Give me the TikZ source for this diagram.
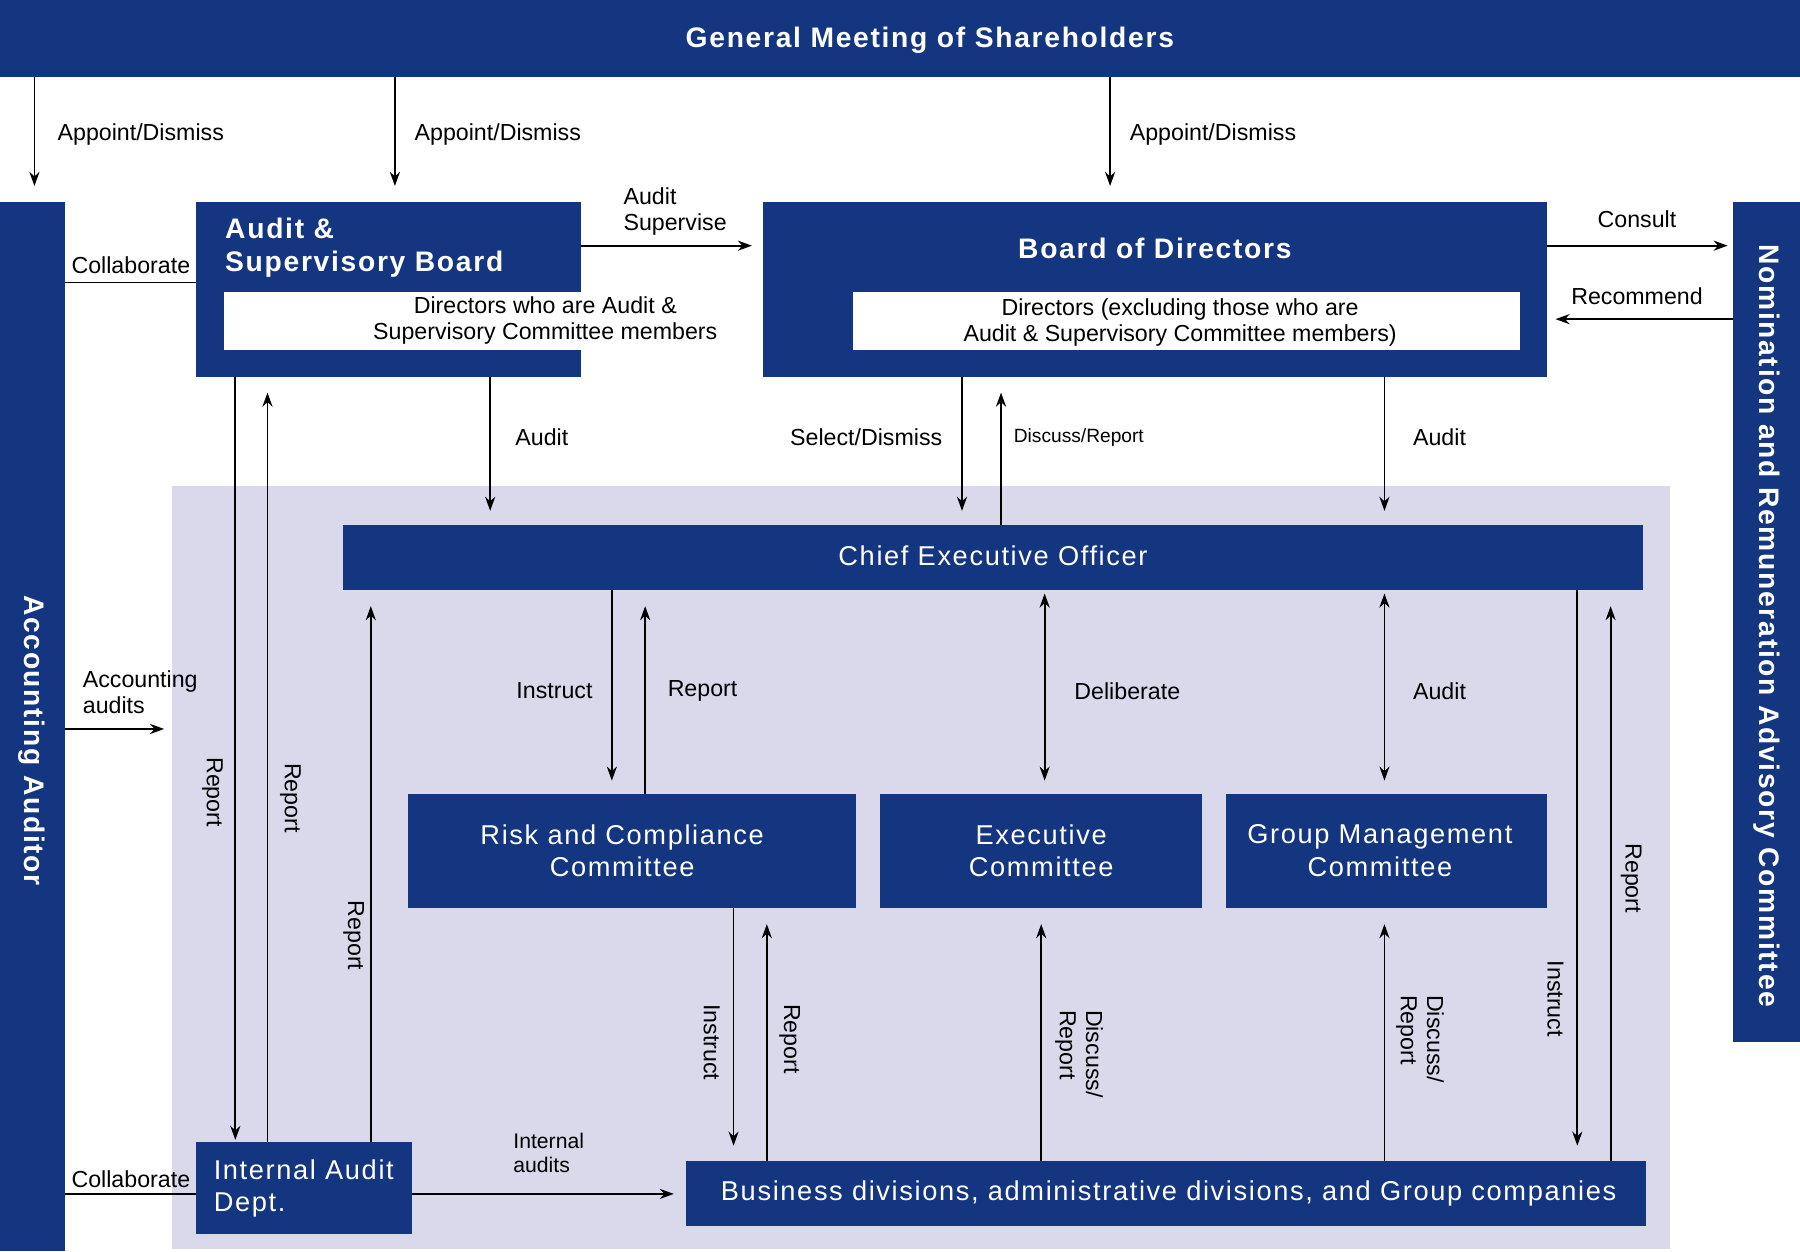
\documentclass[tikz,border=0pt]{standalone}
\usepackage{fontspec}
\setmainfont{Liberation Sans}
\newfontfamily\spc[LetterSpace=6]{Liberation Sans}
\usetikzlibrary{arrows.meta}
\definecolor{db}{HTML}{14357F}
\definecolor{lav}{HTML}{D9D9EB}
\begin{document}
\begin{tikzpicture}[x=0.02cm,y=-0.02cm,
 blue/.style={fill=db,draw=none},
 wt/.style={fill=white,draw=none},
 ar/.style={-{Stealth[length=7pt,width=5pt]},line width=0.9pt},
 dar/.style={{Stealth[length=7pt,width=5pt]}-{Stealth[length=7pt,width=5pt]},line width=0.9pt},
 ln/.style={line width=0.9pt},
 lb/.style={font=\fontsize{11.5}{13}\selectfont,align=left},
 sl/.style={font=\fontsize{9.5}{11}\selectfont,align=left},
 bt/.style={text=white,font=\fontsize{14}{16}\selectfont\spc\bfseries},
 wb/.style={text=white,font=\fontsize{13.5}{16}\selectfont\spc,align=center}]
\useasboundingbox (0,0) rectangle (1568,1090);
\fill[lav] (150,423) rectangle (1455,1088);
% boxes
\fill[blue] (0,0) rectangle (1568,67);
\node[bt] (gm) at (810,35) {General Meeting of Shareholders};
\fill[blue] (0,176) rectangle (57,1090);
\coordinate (aa) at (0,176);
\node[bt,rotate=-90] (acc) at (28,645) {Accounting Auditor};
\fill[blue] (1510,176) rectangle (1568,908);
\node[bt,rotate=-90] (nom) at (1539,545) {Nomination and Remuneration Advisory Committee};
\fill[blue] (171,176) rectangle (506,328);
\node[bt,anchor=north west,align=left] (asb) at (190,184) {Audit \&\\Supervisory Board};
\fill[wt] (195,254) rectangle (717,305);
\node[lb,align=center] (asbi) at (475,279) {Directors who are Audit \&\\Supervisory Committee members};
\fill[blue] (665,176) rectangle (1348,328);
\node[bt] (bod) at (1006,216) {Board of Directors};
\fill[wt] (743,254) rectangle (1324,305);
\node[lb,align=center] (bodi) at (1028,281) {Directors (excluding those who are\\Audit \& Supervisory Committee members)};
\fill[blue] (299,457) rectangle (1431,514);
\node[wb] (ceo) at (865,484) {Chief Executive Officer};
\fill[blue] (355,692) rectangle (746,791);
\node[wb] (rc) at (542,741) {Risk and Compliance\\Committee};
\fill[blue] (767,692) rectangle (1047,791);
\node[wb] (ec) at (907,741) {Executive\\Committee};
\fill[blue] (1068,692) rectangle (1348,791);
\node[wb] (gmc) at (1202,741) {Group Management\\Committee};
\fill[blue] (171,995) rectangle (359,1075);
\node[wb,align=left,anchor=west] (ia) at (180,1035) {Internal Audit\\Dept.};
\fill[blue] (598,1011) rectangle (1434,1068);
\node[wb] (bd) at (1018,1040) {Business divisions, administrative divisions, and Group companies};
% named endpoints
\foreach \n/\x/\y in {a1/30/67,a2/30/162,b1/344/67,b2/344/162,c1/967/67,c2/967/162}
  \coordinate (\n) at (\x,\y);
\draw[ar] (a1)--(a2); \draw[ar] (b1)--(b2); \draw[ar] (c1)--(c2);
\node[lb,anchor=west] at (44,117) {Appoint/Dismiss};
\node[lb,anchor=west] at (355,117) {Appoint/Dismiss};
\node[lb,anchor=west] at (978,117) {Appoint/Dismiss};
\coordinate (s1) at (506,214); \coordinate (s2) at (655,214);
\draw[ar] (s1)--(s2); \node[lb,anchor=west] at (537,184) {Audit\\Supervise};
\coordinate (k1) at (1348,214); \coordinate (k2) at (1505,214);
\draw[ar] (k1)--(k2); \node[lb] at (1426,191) {Consult};
\coordinate (r1) at (1510,278); \coordinate (r2) at (1355,278);
\draw[ar] (r1)--(r2); \node[lb] at (1426,258) {Recommend};
\coordinate (cl1) at (57,246); \coordinate (cl2) at (171,246);
\draw[ln] (cl1)--(cl2); \node[lb] at (114,231) {Collaborate};
\coordinate (cl3) at (57,1040); \coordinate (cl4) at (171,1040);
\draw[ln] (cl3)--(cl4); \node[lb] at (114,1027) {Collaborate};
\coordinate (u1) at (427,328); \coordinate (u2) at (427,445);
\draw[ar] (u1)--(u2); \node[lb] at (472,381) {Audit};
\coordinate (sd1) at (838,328); \coordinate (sd2) at (838,445);
\draw[ar] (sd1)--(sd2); \node[lb,anchor=east] at (827,381) {Select/Dismiss};
\coordinate (dr1) at (872,457); \coordinate (dr2) at (872,342);
\draw[ar] (dr1)--(dr2); \node[sl,anchor=west] at (877,381) {Discuss/Report};
\coordinate (v1) at (1206,328); \coordinate (v2) at (1206,445);
\draw[ar] (v1)--(v2); \node[lb] at (1254,381) {Audit};
\coordinate (p1) at (205,328); \coordinate (p2) at (205,993);
\draw[ar] (p1)--(p2); \node[lb,rotate=-90] at (185,690) {Report};
\coordinate (q1) at (233,995); \coordinate (q2) at (233,342);
\draw[ar] (q1)--(q2); \node[lb,rotate=-90] at (253,695) {Report};
\coordinate (w1) at (323,995); \coordinate (w2) at (323,528);
\draw[ar] (w1)--(w2); \node[lb,rotate=-90] at (308,815) {Report};
\coordinate (ac1) at (57,635); \coordinate (ac2) at (143,635);
\draw[ar] (ac1)--(ac2); \node[lb,anchor=west] at (66,603) {Accounting\\audits};
\coordinate (i1) at (533,514); \coordinate (i2) at (533,680);
\draw[ar] (i1)--(i2); \node[lb] at (483,602) {Instruct};
\coordinate (j1) at (562,692); \coordinate (j2) at (562,528);
\draw[ar] (j1)--(j2); \node[lb] at (612,602) {Report};
\coordinate (d1) at (910,517); \coordinate (d2) at (910,680);
\draw[dar] (d1)--(d2); \node[lb] at (982,602) {Deliberate};
\coordinate (g1) at (1206,517); \coordinate (g2) at (1206,680);
\draw[dar] (g1)--(g2); \node[lb] at (1254,602) {Audit};
\coordinate (x1) at (639,791); \coordinate (x2) at (639,998);
\draw[ar] (x1)--(x2); \node[lb,rotate=-90] at (620,908) {Instruct};
\coordinate (y1) at (668,1011); \coordinate (y2) at (668,805);
\draw[ar] (y1)--(y2); \node[lb,rotate=-90] at (688,905) {Report};
\coordinate (e1) at (907,1011); \coordinate (e2) at (907,805);
\draw[ar] (e1)--(e2); \node[lb,rotate=-90,align=left] at (940,918) {Discuss/\\Report};
\coordinate (f1) at (1206,1011); \coordinate (f2) at (1206,805);
\draw[ar] (f1)--(f2); \node[lb,rotate=-90,align=left] at (1237,905) {Discuss/\\Report};
\coordinate (h1) at (1374,514); \coordinate (h2) at (1374,998);
\draw[ar] (h1)--(h2); \node[lb,rotate=-90] at (1355,870) {Instruct};
\coordinate (t1) at (1403,1011); \coordinate (t2) at (1403,528);
\draw[ar] (t1)--(t2); \node[lb,rotate=-90] at (1421,765) {Report};
\coordinate (n1) at (359,1040); \coordinate (n2) at (587,1040);
\draw[ar] (n1)--(n2); \node[sl,font=\fontsize{10.5}{12}\selectfont] at (478,1004) {Internal\\audits};
\end{tikzpicture}
\end{document}
